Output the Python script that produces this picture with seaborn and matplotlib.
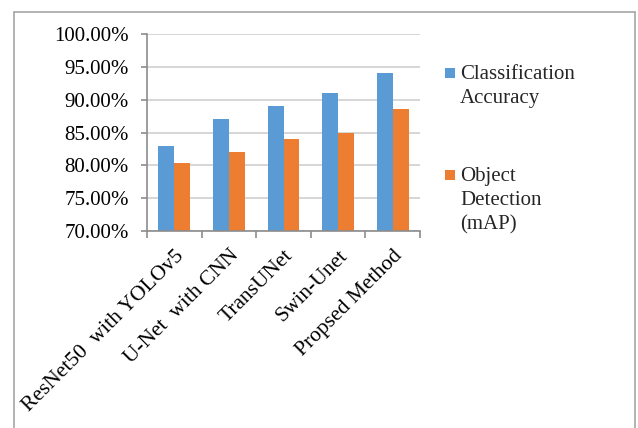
import matplotlib
matplotlib.use("Agg")
import matplotlib.pyplot as plt
from matplotlib.patches import Rectangle
from matplotlib.lines import Line2D
from matplotlib.ticker import PercentFormatter, FixedLocator
import seaborn as sns
import pandas as pd

# ---- data ----
categories = ["ResNet50  with YOLOv5", "U-Net  with CNN", "TransUNet", "Swin-Unet", "Propsed Method"]
classification_accuracy = [0.83, 0.87, 0.89, 0.91, 0.94]
object_detection_map = [0.804, 0.821, 0.840, 0.850, 0.886]
series_names = ["Classification Accuracy", "Object Detection (mAP)"]
legend_lines = [["Classification", "Accuracy"], ["Object", "Detection", "(mAP)"]]
y_ticks = [0.70, 0.75, 0.80, 0.85, 0.90, 0.95, 1.00]
colors = ["#5b9bd5", "#ed7d31"]

df = pd.DataFrame({
    "Method": categories * 2,
    "Series": [series_names[0]] * len(categories) + [series_names[1]] * len(categories),
    "Value": classification_accuracy + object_detection_map,
})

sns.set_theme(style="white")
plt.rcParams["font.family"] = ["Liberation Serif", "DejaVu Serif"]
FS = 15
FSX = 15.5

W, H = 638, 428
fig = plt.figure(figsize=(W / 100, H / 100), dpi=100)
ax = fig.add_axes([147 / W, 1 - 231 / H, (420 - 147) / W, (231 - 34) / H])

sns.barplot(data=df, x="Method", y="Value", hue="Series", palette=colors,
            width=0.58, gap=0, ax=ax, legend=False, saturation=1, linewidth=0)

ax.set_ylim(0.70, 1.00)
ax.set_xlim(-0.5, len(categories) - 0.5)
ax.yaxis.set_major_locator(FixedLocator(y_ticks))
ax.yaxis.set_major_formatter(PercentFormatter(xmax=1, decimals=2))
ax.grid(axis="y", color="#d0d0d0", linewidth=1.2)
ax.set_axisbelow(True)
for s in ["top", "right"]:
    ax.spines[s].set_visible(False)
for s in ["left", "bottom"]:
    ax.spines[s].set_color("#8c8c8c")
    ax.spines[s].set_linewidth(1.2)

ax.set_xlabel("")
ax.set_ylabel("")
ax.tick_params(axis="y", length=4, width=1.2, color="#8c8c8c", pad=9, labelsize=FS, labelcolor="black", left=True)
ax.set_xticks(range(len(categories)))
ax.set_xticklabels(categories, rotation=45, ha="right", rotation_mode="anchor", fontsize=FSX)
ax.tick_params(axis="x", length=0, pad=11, labelcolor="black")
ax.set_xticks([i - 0.5 for i in range(len(categories) + 1)], minor=True)
ax.tick_params(axis="x", which="minor", length=5, width=1.2, color="#8c8c8c", bottom=True)

# legend drawn manually
legend_y = [73, 175]
for color, lines, yc in zip(colors, legend_lines, legend_y):
    fig.patches.append(Rectangle(((445) / W, 1 - (yc + 5) / H), 10 / W, 10 / H,
                                 transform=fig.transFigure, facecolor=color, edgecolor="none"))
    for k, line in enumerate(lines):
        fig.text(460 / W, 1 - (yc + 6 + 24 * k) / H, line, fontsize=FS, va="baseline", ha="left")

# chart frame
frame_col = "#a6a6a6"
fig.add_artist(Line2D([14 / W, 14 / W], [0, 1 - 12 / H], color=frame_col, lw=1.2, transform=fig.transFigure))
fig.add_artist(Line2D([635 / W, 635 / W], [0, 1 - 12 / H], color=frame_col, lw=1.2, transform=fig.transFigure))
fig.add_artist(Line2D([14 / W, 635 / W], [1 - 12 / H, 1 - 12 / H], color=frame_col, lw=1.2, transform=fig.transFigure))

fig.savefig("out.png", dpi=100)
